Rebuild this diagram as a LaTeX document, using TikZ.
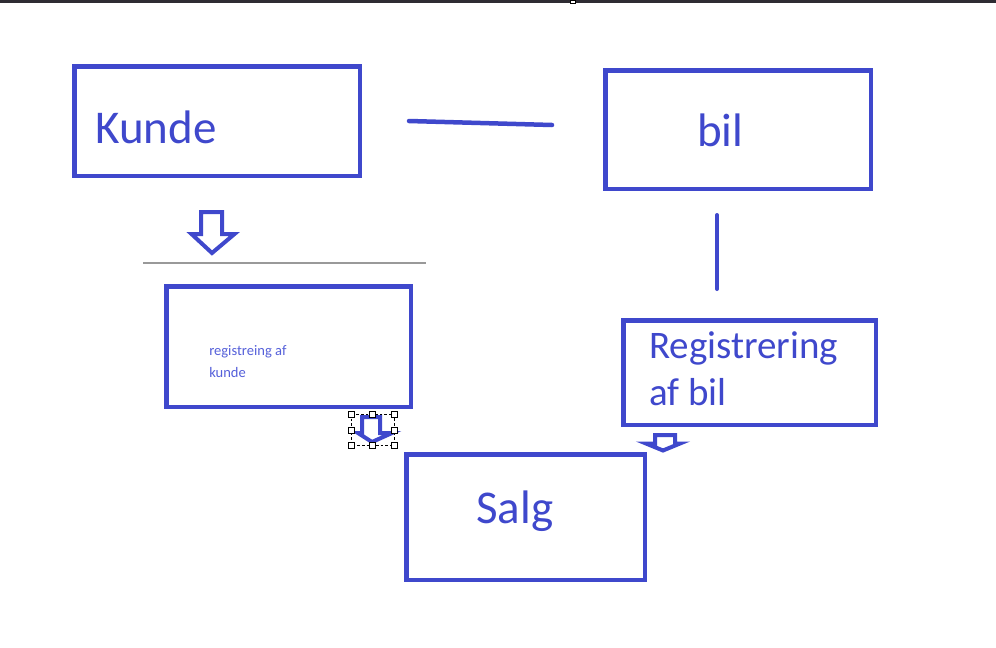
\documentclass[tikz,border=0pt]{standalone}
\usepackage{fontspec}
\setmainfont{Carlito}
\definecolor{pblue}{HTML}{3F48CC}
\definecolor{lblue}{HTML}{5560DA}
\definecolor{topbar}{HTML}{2E2C33}
\begin{document}
\begin{tikzpicture}[x=0.75pt,y=-0.75pt,
  box/.style={draw=pblue,line width=3.375pt,inner sep=0pt,fill=white},
  lbl/.style={anchor=base west,inner sep=0pt,text=pblue},
  bigtxt/.style={lbl,font=\fontsize{35.25pt}{42pt}\selectfont},
  midtxt/.style={lbl,font=\fontsize{29.25pt}{35pt}\selectfont},
  smalltxt/.style={anchor=base west,inner sep=0pt,text=lblue,font=\fontsize{10.9pt}{13pt}\selectfont},
  bline/.style={draw=pblue,line width=3.375pt,line cap=round},
  harrow/.style={draw=pblue,line width=3pt,line join=miter,fill=white},
  handle/.style={draw=black,fill=white,line width=0.6pt,minimum size=4.5pt,inner sep=0pt}
]
\useasboundingbox (0,0) rectangle (996,647);
\fill[white] (0,0) rectangle (996,647);
% top bar
\fill[topbar] (0,0) rectangle (996,2.6);
\node[draw=black,fill=white,line width=0.5pt,minimum width=4pt,minimum height=2.5pt,inner sep=0pt] (tophandle) at (573,1.5) {};

% boxes
\node[box,minimum width={285.5*0.75pt},minimum height={109.5*0.75pt}] (kunde) at (217,121) {};
\node[box,minimum width={265.5*0.75pt},minimum height={118.5*0.75pt}] (bil) at (738,129.5) {};
\node[box,minimum width={244.5*0.75pt},minimum height={120.5*0.75pt}] (regk) at (288.5,346.5) {};
\node[box,minimum width={252.5*0.75pt},minimum height={104.5*0.75pt}] (regb) at (749.5,372.5) {};

% texts
\node[bigtxt] (tkunde) at (95,143) {Kunde};
\node[bigtxt] (tbil) at (697,146) {bil};
\node[smalltxt] (tregk1) at (209,355) {registreing af};
\node[smalltxt] (tregk2) at (209,377) {kunde};
\node[midtxt] (tregb1) at (649,358) {Registrering};
\node[midtxt] (tregb2) at (649,405) {af bil};

% connector lines
\coordinate (l1a) at (409,121);
\coordinate (l1b) at (552,125);
\draw[bline] (l1a) -- (l1b);
\coordinate (l2a) at (717,215);
\coordinate (l2b) at (717,289);
\draw[bline,line width=3pt] (l2a) -- (l2b);

% gray separator
\coordinate (g1) at (143,263);
\coordinate (g2) at (426,263);
\draw[draw=gray!80,line width=0.8pt] (g1) -- (g2);

% hollow arrow 1
\draw[harrow] (201,212) -- (222,212) -- (222,234) -- (234.5,234) -- (212,253) -- (191.5,234) -- (201,234) -- cycle;

% arrow 3 (small)
\draw[harrow] (655,435) -- (675,435) -- (675,443.5) -- (680,443.5) -- (663,450.5) -- (646,443.5) -- (655,443.5) -- cycle;

% Salg box
\node[box,minimum width={238.5*0.75pt},minimum height={125.5*0.75pt}] (salg) at (525.5,517) {};
\node[bigtxt] (tsalg) at (476,523) {Salg};

% hollow arrow 2 with selection
\draw[harrow] (362,417) -- (380,417) -- (380,433) -- (392,433) -- (372,442) -- (358,433) -- (362,433) -- cycle;
\draw[black,line width=0.5pt,dash pattern=on 2pt off 1.5pt] (351,414) rectangle (394,445);
\foreach \hx/\hy [count=\i] in {351/414,372/414,394/414,351/430,394/430,351/445,372/445,394/445}
  \node[handle] (h\i) at (\hx,\hy) {};
\end{tikzpicture}
\end{document}
